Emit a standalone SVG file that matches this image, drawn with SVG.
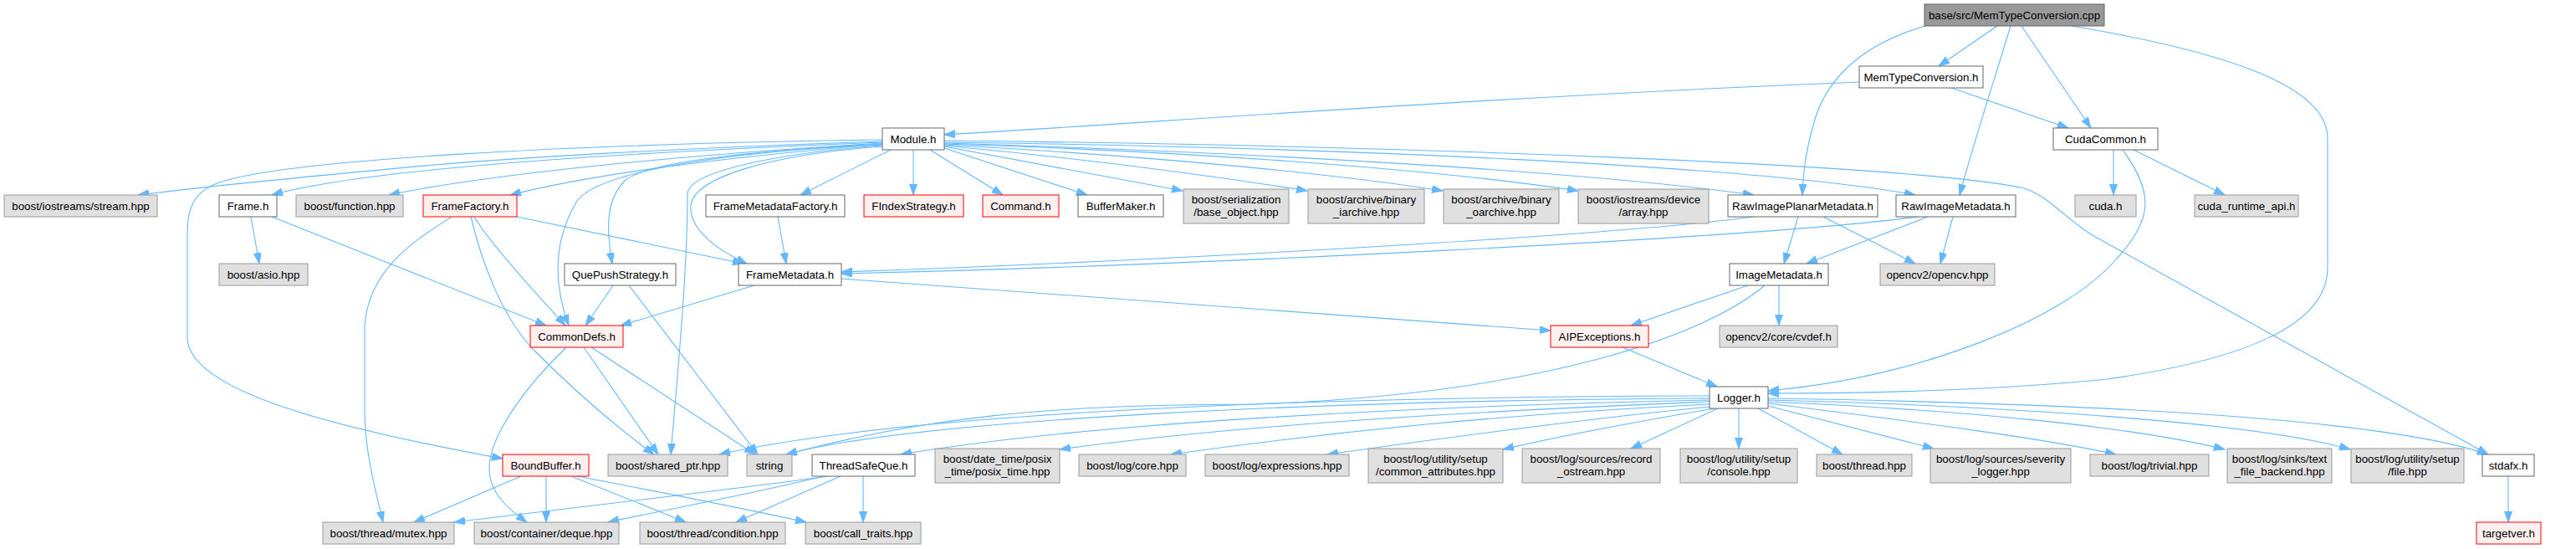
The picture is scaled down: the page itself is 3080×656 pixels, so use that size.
<svg xmlns="http://www.w3.org/2000/svg" width="3080" height="656" viewBox="0 0 3080 656">
<style>
rect{stroke-width:1}
.w rect{fill:#ffffff;stroke:#666666}
.g rect{fill:#e0e0e0;stroke:#999999}
.r rect{fill:#fff0f0;stroke:#ff0000}
.t rect{fill:#999999;stroke:#666666}
text{font-family:"Liberation Sans",Arial,sans-serif;font-size:13.33px;fill:#000000;text-anchor:middle}
.e path{fill:none;stroke:#63b8ff;stroke-width:1.1;marker-end:url(#ah)}
</style>
<defs>
<marker id="ah" markerUnits="userSpaceOnUse" markerWidth="14" markerHeight="10" refX="13" refY="4.5" orient="auto">
<path d="M0,0 L13,4.5 L0,9 z" fill="#63b8ff" stroke="#63b8ff" stroke-width="1"/>
</marker>
</defs>
<rect width="3080" height="656" fill="#ffffff"/>
<g class="e" id="edges">
<path d="M1055,169 C800,177 600,190 520,197 C400,208 250,222 165,233"/>
<path d="M1055,170 C800,180 450,198 325,233"/>
<path d="M1055,171 C850,183 600,205 465,233"/>
<path d="M1055,172 C900,185 720,205 610,233"/>
<path d="M1055,167 C700,172 330,190 257,220 C230,232 224,250 224,280 L224,403 C224,470 420,515 601,548"/>
<path d="M1055,172 C900,180 720,200 690,240 C660,290 662,340 680,389"/>
<path d="M1055,173 C900,180 780,192 748,215 C722,240 726,280 732,315"/>
<path d="M1055,174 C930,183 822,205 822,232 C822,330 808,470 802,543"/>
<path d="M1055,175 C920,185 830,212 826,245 C823,275 860,300 893,315"/>
<path d="M1065,179 L957,233"/>
<path d="M1092,179 L1092,233"/>
<path d="M1112,179 L1199,233"/>
<path d="M1129,177 L1300,233"/>
<path d="M1129,175 L1414,228"/>
<path d="M1129,174 C1300,190 1450,210 1563,228"/>
<path d="M1129,173 C1350,185 1580,205 1725,228"/>
<path d="M1129,172 C1400,180 1700,200 1887,228"/>
<path d="M1129,171 C1500,182 1900,205 2097,233"/>
<path d="M1129,170 C1600,176 2100,198 2290,233"/>
<path d="M1129,168 C1700,174 2300,198 2420,225 C2450,235 2462,255 2500,280 L2975,543"/>
<path d="M2388,31 L2318,79"/>
<path d="M2417,31 L2500,153"/>
<path d="M2404,31 C2380,110 2360,170 2343,233"/>
<path d="M2302,31 C2220,55 2180,100 2168,150 C2158,185 2156,210 2155,233"/>
<path d="M2477,31 C2650,60 2783,100 2783,165 L2783,320 C2783,390 2680,430 2520,453 C2400,465 2250,470 2114,470"/>
<path d="M2223,98 C1800,115 1400,145 1129,161"/>
<path d="M2333,105 L2473,153"/>
<path d="M2527,179 L2527,233"/>
<path d="M2551,179 L2660,233"/>
<path d="M2538,179 C2575,230 2575,262 2530,310 C2470,380 2300,450 2114,467"/>
<path d="M300,259 L310,315"/>
<path d="M325,259 L653,389"/>
<path d="M540,259 C500,285 440,320 436,390 L436,490 C436,540 450,590 458,624"/>
<path d="M563,259 C575,310 600,380 640,420 C680,460 730,505 782,543"/>
<path d="M567,259 C585,290 640,350 676,389"/>
<path d="M618,259 L889,315"/>
<path d="M930,259 L940,315"/>
<path d="M733,341 L700,389"/>
<path d="M752,341 L906,543"/>
<path d="M902,341 L742,389"/>
<path d="M1006,333 L1854,395"/>
<path d="M2097,259 C1900,285 1300,315 1006,325"/>
<path d="M2293,259 C2100,285 1400,318 1006,327"/>
<path d="M2150,259 L2133,315"/>
<path d="M2180,259 L2290,315"/>
<path d="M2305,259 L2160,315"/>
<path d="M2335,259 L2320,315"/>
<path d="M2090,341 L1950,389"/>
<path d="M2127,341 L2127,389"/>
<path d="M2110,341 C2040,400 1850,470 1500,483 C1250,483 1100,500 940,543"/>
<path d="M1940,415 L2053,462"/>
<path d="M677,415 C630,460 585,520 585,560 C585,590 610,610 630,624"/>
<path d="M698,415 L787,543"/>
<path d="M707,415 L903,543"/>
<path d="M2044,473 C1600,474 1100,490 860,543"/>
<path d="M2044,476 C1600,478 1100,500 940,543"/>
<path d="M2044,478 C1700,485 1300,505 1077,543"/>
<path d="M2044,480 C1800,490 1500,505 1267,537"/>
<path d="M2044,483 C1800,495 1600,515 1400,543"/>
<path d="M2044,486 C1900,500 1750,520 1587,543"/>
<path d="M2050,488 C1950,505 1870,520 1797,537"/>
<path d="M2054,488 L1950,536"/>
<path d="M2079,488 L2079,536"/>
<path d="M2102,488 L2203,543"/>
<path d="M2114,485 L2312,536"/>
<path d="M2114,482 C2300,505 2450,525 2530,543"/>
<path d="M2114,480 C2350,490 2550,510 2660,537"/>
<path d="M2114,478 C2400,485 2700,505 2810,537"/>
<path d="M2114,476 C2500,482 2850,500 2975,543"/>
<path d="M623,569 L495,624"/>
<path d="M653,569 L653,624"/>
<path d="M683,569 L820,624"/>
<path d="M690,569 C800,590 900,610 964,624"/>
<path d="M990,569 C900,582 700,605 543,624"/>
<path d="M985,569 C900,590 800,608 727,624"/>
<path d="M1005,569 L880,624"/>
<path d="M1032,569 L1032,624"/>
<path d="M2999,569 L2999,624"/>
</g>
<g id="n0" class="t"><rect x="2301" y="5" width="215" height="26"/><text x="2408.5" y="23">base/src/MemTypeConversion.cpp</text></g>
<g id="n1" class="w"><rect x="2223" y="79" width="148" height="26"/><text x="2297" y="97">MemTypeConversion.h</text></g>
<g id="n2" class="w"><rect x="1055" y="153" width="74" height="26"/><text x="1092" y="171">Module.h</text></g>
<g id="n3" class="w"><rect x="2455" y="153" width="125" height="26"/><text x="2517.5" y="171">CudaCommon.h</text></g>
<g id="n4" class="g"><rect x="5" y="233" width="183" height="26"/><text x="96.5" y="251">boost/iostreams/stream.hpp</text></g>
<g id="n5" class="w"><rect x="262" y="233" width="69" height="26"/><text x="296.5" y="251">Frame.h</text></g>
<g id="n6" class="g"><rect x="354" y="233" width="128" height="26"/><text x="418" y="251">boost/function.hpp</text></g>
<g id="n7" class="r"><rect x="506" y="233" width="112" height="26"/><text x="562" y="251">FrameFactory.h</text></g>
<g id="n8" class="w"><rect x="844" y="233" width="166" height="26"/><text x="927" y="251">FrameMetadataFactory.h</text></g>
<g id="n9" class="r"><rect x="1033" y="233" width="119" height="26"/><text x="1092.5" y="251">FIndexStrategy.h</text></g>
<g id="n10" class="r"><rect x="1175" y="233" width="91" height="26"/><text x="1220.5" y="251">Command.h</text></g>
<g id="n11" class="w"><rect x="1289" y="233" width="102" height="26"/><text x="1340" y="251">BufferMaker.h</text></g>
<g id="n12" class="g"><rect x="1415" y="226" width="126" height="41"/><text x="1478" y="243">boost/serialization</text><text x="1478" y="258">/base_object.hpp</text></g>
<g id="n13" class="g"><rect x="1564" y="226" width="139" height="41"/><text x="1633.5" y="243">boost/archive/binary</text><text x="1633.5" y="258">_iarchive.hpp</text></g>
<g id="n14" class="g"><rect x="1726" y="226" width="138" height="41"/><text x="1795" y="243">boost/archive/binary</text><text x="1795" y="258">_oarchive.hpp</text></g>
<g id="n15" class="g"><rect x="1887" y="226" width="156" height="41"/><text x="1965" y="243">boost/iostreams/device</text><text x="1965" y="258">/array.hpp</text></g>
<g id="n16" class="w"><rect x="2066" y="233" width="179" height="26"/><text x="2155.5" y="251">RawImagePlanarMetadata.h</text></g>
<g id="n17" class="w"><rect x="2267" y="233" width="143" height="26"/><text x="2338.5" y="251">RawImageMetadata.h</text></g>
<g id="n18" class="g"><rect x="2481" y="233" width="73" height="26"/><text x="2517.5" y="251">cuda.h</text></g>
<g id="n19" class="g"><rect x="2624" y="233" width="124" height="26"/><text x="2686" y="251">cuda_runtime_api.h</text></g>
<g id="n20" class="g"><rect x="262" y="315" width="106" height="26"/><text x="315" y="333">boost/asio.hpp</text></g>
<g id="n21" class="w"><rect x="675" y="315" width="133" height="26"/><text x="741.5" y="333">QuePushStrategy.h</text></g>
<g id="n22" class="w"><rect x="883" y="315" width="123" height="26"/><text x="944.5" y="333">FrameMetadata.h</text></g>
<g id="n23" class="w"><rect x="2068" y="315" width="118" height="26"/><text x="2127" y="333">ImageMetadata.h</text></g>
<g id="n24" class="g"><rect x="2248" y="315" width="137" height="26"/><text x="2316.5" y="333">opencv2/opencv.hpp</text></g>
<g id="n25" class="r"><rect x="634" y="389" width="111" height="26"/><text x="689.5" y="407">CommonDefs.h</text></g>
<g id="n26" class="r"><rect x="1854" y="389" width="117" height="26"/><text x="1912.5" y="407">AIPExceptions.h</text></g>
<g id="n27" class="g"><rect x="2056" y="389" width="141" height="26"/><text x="2126.5" y="407">opencv2/core/cvdef.h</text></g>
<g id="n28" class="w"><rect x="2044" y="462" width="70" height="26"/><text x="2079" y="480">Logger.h</text></g>
<g id="n29" class="r"><rect x="601" y="543" width="103" height="26"/><text x="652.5" y="561">BoundBuffer.h</text></g>
<g id="n30" class="g"><rect x="727" y="543" width="143" height="26"/><text x="798.5" y="561">boost/shared_ptr.hpp</text></g>
<g id="n31" class="g"><rect x="893" y="543" width="54" height="26"/><text x="920" y="561">string</text></g>
<g id="n32" class="w"><rect x="971" y="543" width="123" height="26"/><text x="1032.5" y="561">ThreadSafeQue.h</text></g>
<g id="n33" class="g"><rect x="1118" y="536" width="149" height="41"/><text x="1192.5" y="553">boost/date_time/posix</text><text x="1192.5" y="568">_time/posix_time.hpp</text></g>
<g id="n34" class="g"><rect x="1290" y="543" width="128" height="26"/><text x="1354" y="561">boost/log/core.hpp</text></g>
<g id="n35" class="g"><rect x="1441" y="543" width="172" height="26"/><text x="1527" y="561">boost/log/expressions.hpp</text></g>
<g id="n36" class="g"><rect x="1636" y="536" width="161" height="41"/><text x="1716.5" y="553">boost/log/utility/setup</text><text x="1716.5" y="568">/common_attributes.hpp</text></g>
<g id="n37" class="g"><rect x="1820" y="536" width="165" height="41"/><text x="1902.5" y="553">boost/log/sources/record</text><text x="1902.5" y="568">_ostream.hpp</text></g>
<g id="n38" class="g"><rect x="2009" y="536" width="140" height="41"/><text x="2079" y="553">boost/log/utility/setup</text><text x="2079" y="568">/console.hpp</text></g>
<g id="n39" class="g"><rect x="2172" y="543" width="114" height="26"/><text x="2229" y="561">boost/thread.hpp</text></g>
<g id="n40" class="g"><rect x="2308" y="536" width="168" height="41"/><text x="2392" y="553">boost/log/sources/severity</text><text x="2392" y="568">_logger.hpp</text></g>
<g id="n41" class="g"><rect x="2499" y="543" width="142" height="26"/><text x="2570" y="561">boost/log/trivial.hpp</text></g>
<g id="n42" class="g"><rect x="2663" y="536" width="125" height="41"/><text x="2725.5" y="553">boost/log/sinks/text</text><text x="2725.5" y="568">_file_backend.hpp</text></g>
<g id="n43" class="g"><rect x="2811" y="536" width="135" height="41"/><text x="2878.5" y="553">boost/log/utility/setup</text><text x="2878.5" y="568">/file.hpp</text></g>
<g id="n44" class="w"><rect x="2968" y="543" width="62" height="26"/><text x="2999" y="561">stdafx.h</text></g>
<g id="n45" class="g"><rect x="386" y="624" width="157" height="26"/><text x="464.5" y="642">boost/thread/mutex.hpp</text></g>
<g id="n46" class="g"><rect x="567" y="624" width="173" height="26"/><text x="653.5" y="642">boost/container/deque.hpp</text></g>
<g id="n47" class="g"><rect x="765" y="624" width="174" height="26"/><text x="852" y="642">boost/thread/condition.hpp</text></g>
<g id="n48" class="g"><rect x="963" y="624" width="138" height="26"/><text x="1032" y="642">boost/call_traits.hpp</text></g>
<g id="n49" class="r"><rect x="2961" y="624" width="77" height="26"/><text x="2999.5" y="642">targetver.h</text></g>
</svg>
